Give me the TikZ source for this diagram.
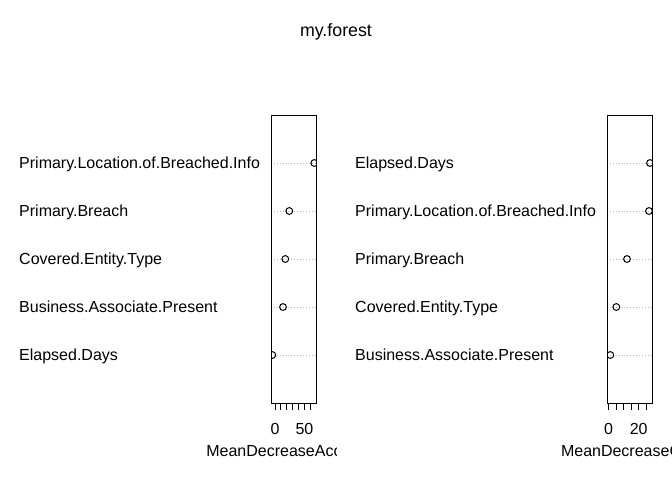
\documentclass[tikz,border=0pt]{standalone}
\usepackage{fontspec}
\setmainfont{Liberation Sans}
\begin{document}
\begin{tikzpicture}[x=1pt,y=-1pt,
  lab/.style={anchor=base west,inner sep=0pt,font=\fontsize{16}{19}\selectfont},
  ticklab/.style={anchor=base,inner sep=0pt,font=\fontsize{16}{19}\selectfont},
  pt/.style={circle,draw,line width=1pt,minimum size=6.8pt,inner sep=0pt},
  guide/.style={draw=gray!55,dotted,line width=0.9pt},
  frame/.style={draw,line width=1pt},
  tickmark/.style={line width=1pt}]
\useasboundingbox (0,0) rectangle (672,480);
\node[anchor=base,inner sep=0pt,font=\fontsize{17.8}{21}\selectfont] (title) at (336,36) {my.forest};

% ---------- left panel ----------
\node[lab] (l1) at (19,168.8) {Primary.Location.of.Breached.Info};
\node[lab] (l2) at (19,216.8) {Primary.Breach};
\node[lab] (l3) at (19,264.8) {Covered.Entity.Type};
\node[lab] (l4) at (19,312.8) {Business.Associate.Present};
\node[lab] (l5) at (19,360.8) {Elapsed.Days};
\coordinate (LA) at (271,115);
\coordinate (LB) at (316,403);
\foreach \y in {163,211,259,307,355} \draw[guide] (271,\y) -- (316,\y);
\begin{scope}
\clip (LA) rectangle (LB);
\node[pt] (p1) at (314.3,163) {};
\node[pt] (p2) at (289.3,211) {};
\node[pt] (p3) at (285.3,259) {};
\node[pt] (p4) at (283,307) {};
\node[pt] (p5) at (272.3,355) {};
\end{scope}
\draw[frame] (LA) rectangle (LB);
\foreach \i in {0,...,6} \draw[tickmark] ({275+5.88*\i},403) -- ({275+5.88*\i},410.2);
\node[ticklab] (lt0) at (275,434.5) {0};
\node[ticklab] (lt50) at (304.4,434.5) {50};
\begin{scope}
\clip (0,0) rectangle (336,480);
\node[ticklab] (lx) at (293.5,456) {MeanDecreaseAccuracy};
\end{scope}

% ---------- right panel ----------
\node[lab] (r1) at (355,168.8) {Elapsed.Days};
\node[lab] (r2) at (355,216.8) {Primary.Location.of.Breached.Info};
\node[lab] (r3) at (355,264.8) {Primary.Breach};
\node[lab] (r4) at (355,312.8) {Covered.Entity.Type};
\node[lab] (r5) at (355,360.8) {Business.Associate.Present};
\coordinate (RA) at (607,115);
\coordinate (RB) at (652,403);
\foreach \y in {163,211,259,307,355} \draw[guide] (607,\y) -- (652,\y);
\begin{scope}
\clip (RA) rectangle (RB);
\node[pt] (q1) at (650,163) {};
\node[pt] (q2) at (649,211) {};
\node[pt] (q3) at (627,259) {};
\node[pt] (q4) at (616.3,307) {};
\node[pt] (q5) at (610.3,355) {};
\end{scope}
\draw[frame] (RA) rectangle (RB);
\foreach \i in {0,...,5} \draw[tickmark] ({608.5+7.55*\i},403) -- ({608.5+7.55*\i},410.2);
\node[ticklab] (rt0) at (608.5,434.5) {0};
\node[ticklab] (rt20) at (638.7,434.5) {20};
\begin{scope}
\clip (336,0) rectangle (672,480);
\node[ticklab] (rx) at (629.5,456) {MeanDecreaseGini};
\end{scope}
\end{tikzpicture}
\end{document}
